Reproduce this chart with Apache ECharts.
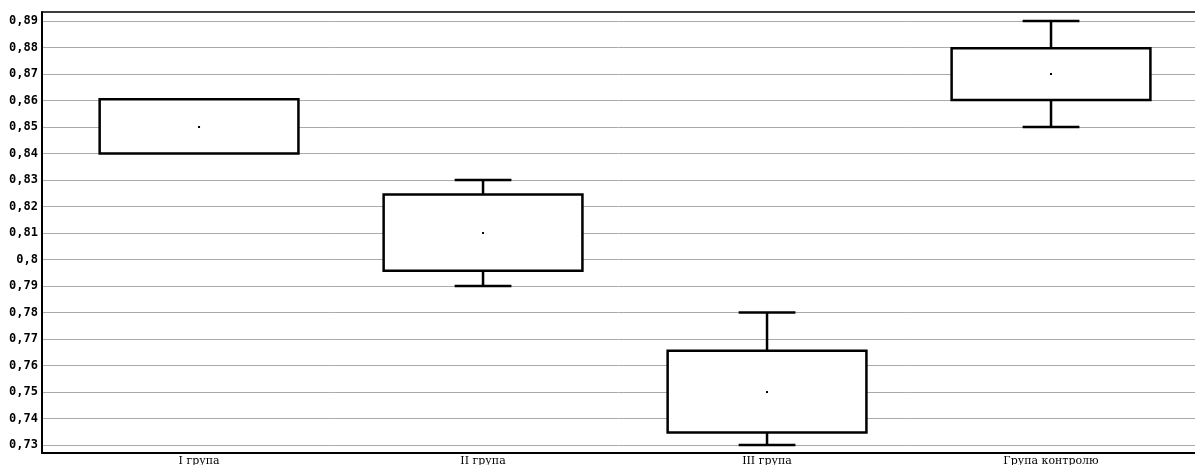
<!DOCTYPE html>
<html>
<head>
<meta charset="utf-8">
<script src="https://cdn.jsdelivr.net/npm/echarts@6/dist/echarts.min.js"></script>
<style>
  html, body { margin: 0; padding: 0; background: #fff; }
  #chart { width: 1195px; height: 465px; }
</style>
</head>
<body>
<div id="chart"></div>
<script>
// groups and box statistics
var categories = ['I група', 'II група', 'III група', 'Група контролю']
var lows  = [0.84,   0.79,   0.73,   0.85]
var q1s   = [0.84,   0.7958, 0.7347, 0.8602]
var q3s   = [0.8605, 0.8245, 0.7656, 0.8797]
var highs = [0.8605, 0.83,   0.78,   0.89]
var means = [0.85,   0.81,   0.75,   0.87]
var yTicks = [0.73, 0.74, 0.75, 0.76, 0.77, 0.78, 0.79, 0.8, 0.81, 0.82, 0.83, 0.84, 0.85, 0.86, 0.87, 0.88, 0.89]

var boxData = categories.map(function (c, i) {
  return [i, lows[i], q1s[i], q3s[i], highs[i], means[i]]
})

function fmt (v) {
  return String(Math.round(v * 100) / 100).replace('.', ',')
}

function renderBox (params, api) {
  var x = api.value(0)
  var pLow = api.coord([x, api.value(1)])
  var pQ1 = api.coord([x, api.value(2)])
  var pQ3 = api.coord([x, api.value(3)])
  var pHigh = api.coord([x, api.value(4)])
  var pMean = api.coord([x, api.value(5)])
  var half = api.size([1, 0])[0] * 0.35
  var cap = api.size([1, 0])[0] * 0.1
  var line = { stroke: '#000', lineWidth: 2.5, fill: null }
  var kids = []
  if (pHigh[1] < pQ3[1] - 1) {
    kids.push({ type: 'line', shape: { x1: pHigh[0], y1: pHigh[1], x2: pQ3[0], y2: pQ3[1] }, style: line })
    kids.push({ type: 'line', shape: { x1: pHigh[0] - cap, y1: pHigh[1], x2: pHigh[0] + cap, y2: pHigh[1] }, style: line })
  }
  if (pLow[1] > pQ1[1] + 1) {
    kids.push({ type: 'line', shape: { x1: pLow[0], y1: pLow[1], x2: pQ1[0], y2: pQ1[1] }, style: line })
    kids.push({ type: 'line', shape: { x1: pLow[0] - cap, y1: pLow[1], x2: pLow[0] + cap, y2: pLow[1] }, style: line })
  }
  kids.push({
    type: 'rect',
    shape: { x: pQ3[0] - half, y: pQ3[1], width: half * 2, height: pQ1[1] - pQ3[1] },
    style: { stroke: '#000', lineWidth: 2.5, fill: '#fff' }
  })
  kids.push({
    type: 'rect',
    shape: { x: pMean[0] - 1, y: pMean[1] - 1, width: 2, height: 2 },
    style: { fill: '#000' }
  })
  return { type: 'group', children: kids }
}

var chart = echarts.init(document.getElementById('chart'))
chart.setOption({
  animation: false,
  backgroundColor: '#fff',
  grid: { left: 42, right: 0, top: 12, bottom: 12, containLabel: false, outerBoundsMode: 'none' },
  xAxis: [{
    type: 'value',
    min: -0.553,
    max: 3.507,
    axisLine: { show: true, onZero: false, lineStyle: { color: '#000', width: 2 } },
    axisTick: { show: false },
    splitLine: { show: false },
    axisLabel: {
      customValues: [0, 1, 2, 3],
      formatter: function (v) { return categories[Math.round(v)] },
      color: '#000',
      fontFamily: 'DejaVu Serif',
      fontSize: 11,
      margin: 3
    }
  }, {
    type: 'value',
    position: 'top',
    min: -0.553,
    max: 3.507,
    axisLine: { show: true, onZero: false, lineStyle: { color: '#000', width: 1.5 } },
    axisTick: { show: false },
    axisLabel: { show: false },
    splitLine: { show: false }
  }],
  yAxis: {
    type: 'value',
    min: 0.727,
    max: 0.8934,
    axisLine: { show: true, onZero: false, lineStyle: { color: '#000', width: 2 } },
    axisTick: { show: false, customValues: yTicks },
    axisLabel: {
      customValues: yTicks,
      formatter: fmt,
      color: '#000',
      fontFamily: 'DejaVu Sans Mono',
      fontWeight: 'bold',
      fontSize: 12,
      margin: 4
    },
    splitLine: { show: true, lineStyle: { color: '#aaa', width: 1 } }
  },
  series: [{
    type: 'custom',
    renderItem: renderBox,
    encode: { x: 0, y: [1, 2, 3, 4, 5] },
    data: boxData
  }]
})
</script>
</body>
</html>
